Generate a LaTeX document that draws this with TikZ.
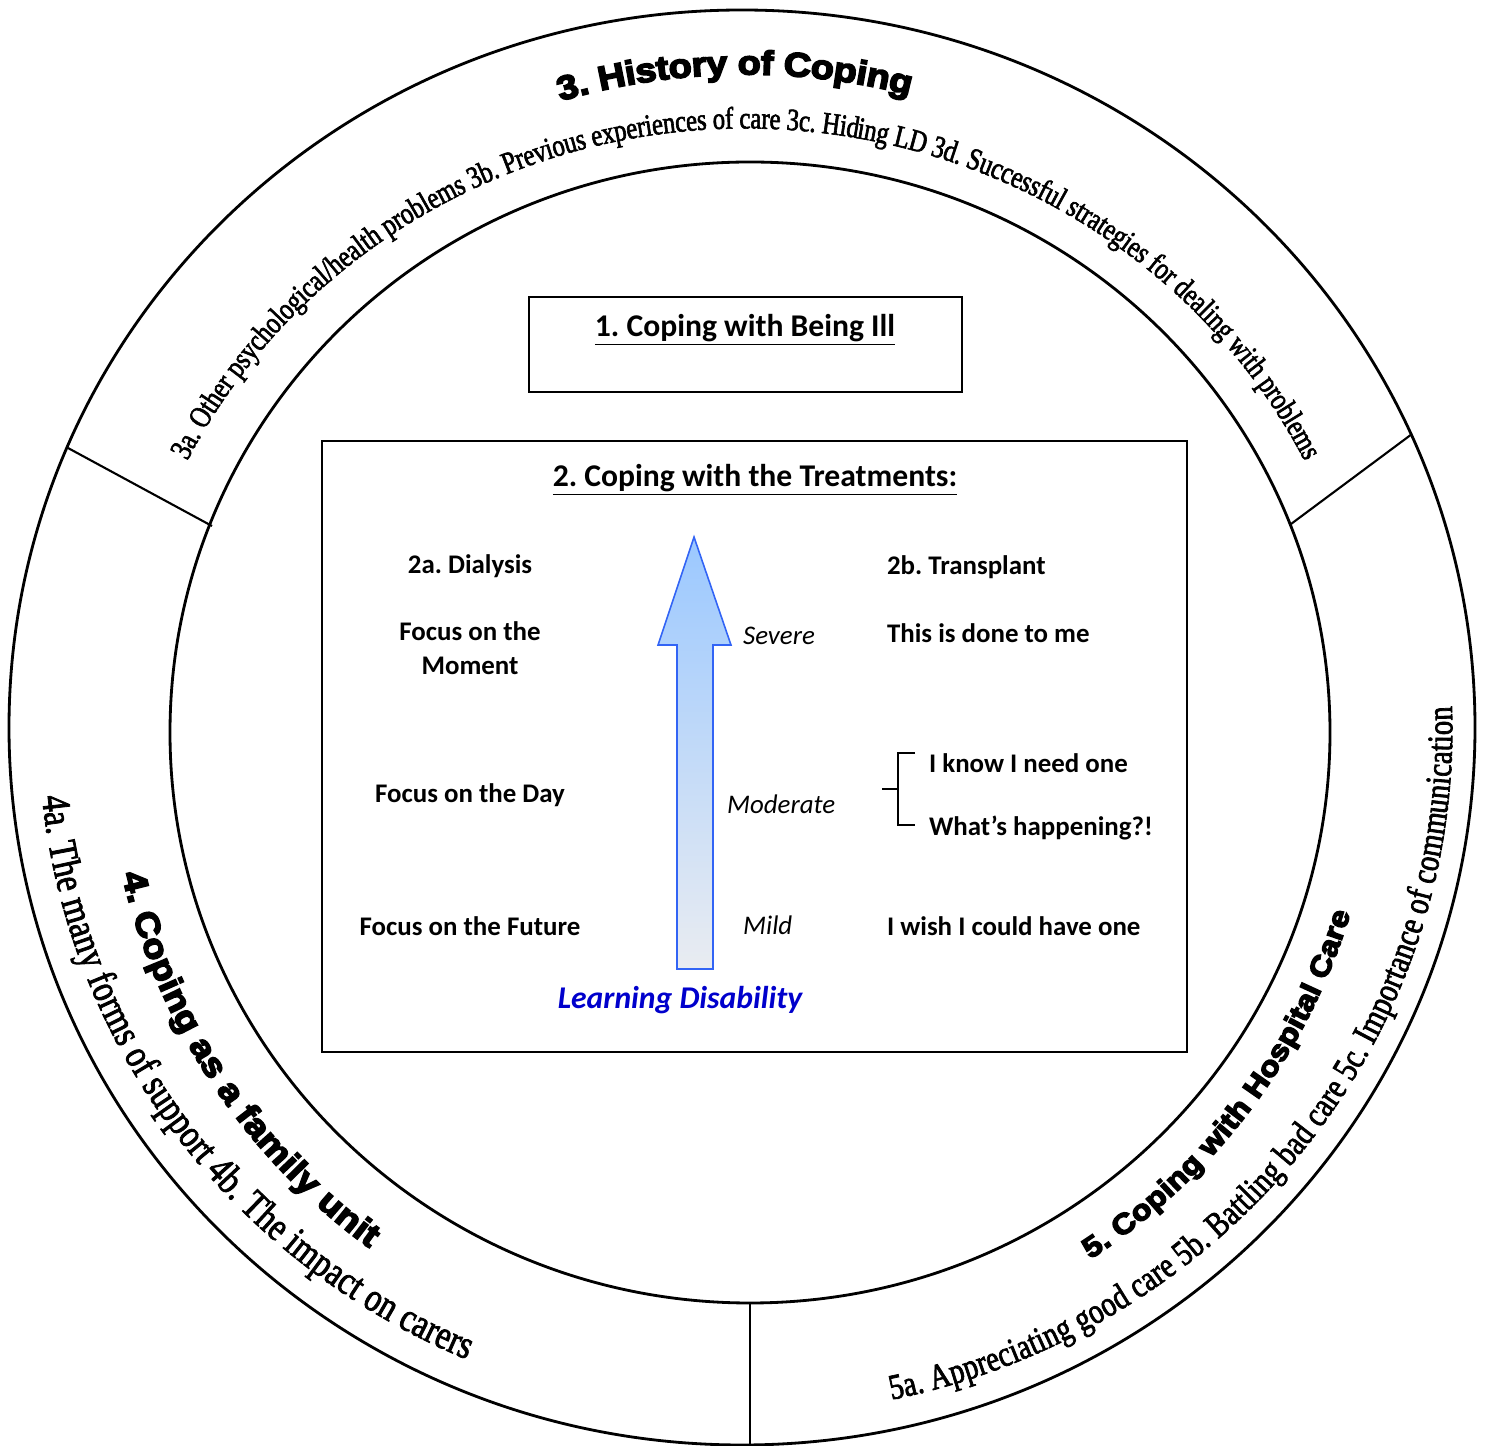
\documentclass[tikz,border=0pt]{standalone}
\usepackage{fontspec}
\setmainfont{Carlito}
\newfontfamily\ringhead[FakeStretch=1.12,BoldFeatures={FakeBold=5}]{Liberation Sans}
\newfontfamily\ringsub[FakeStretch=0.8,FakeBold=2]{Liberation Serif}
\usetikzlibrary{positioning,calc,decorations.text}
\frenchspacing

\begin{document}
\begin{tikzpicture}[x=0.2mm, y=0.2mm, every node/.style={align=center}]
    % colours
    \definecolor{arrowline}{RGB}{50,100,245}
    \definecolor{arrowtop}{RGB}{155,200,255}
    \definecolor{arrowbot}{RGB}{233,236,241}
    \definecolor{ldblue}{RGB}{0,0,204}

    % styles
    \tikzstyle{ring} = [line width=1.6pt]
    \tikzstyle{divider} = [line width=1.2pt]
    \tikzstyle{panel} = [rectangle, draw, line width=1.1pt, inner sep=0pt]
    \tikzstyle{title} = [font=\fontsize{18}{22}\selectfont\bfseries, inner sep=1pt]
    \tikzstyle{item} = [font=\fontsize{15.3}{19}\selectfont\bfseries, inner sep=1pt]
    \tikzstyle{level} = [font=\fontsize{15.3}{19}\selectfont\itshape, inner sep=1pt]

    \useasboundingbox (0,0) rectangle (1485,1446);

    % rings
    \coordinate (oc) at (742,718.5);
    \coordinate (ic) at (750,713.5);
    \coordinate (tc) at (746,716);
    \draw[ring] (oc) ellipse [x radius=733, y radius=717.5];
    \draw[ring] (ic) ellipse [x radius=580, y radius=570.5];

    % dividers between the ring parts
    \coordinate (d34o) at (68,998);
    \coordinate (d34i) at (212,920);
    \coordinate (d35o) at (1412,1012);
    \coordinate (d35i) at (1291,922);
    \coordinate (d45o) at (750,1);
    \coordinate (d45i) at (750,143);
    \draw[divider] (d34o) -- (d34i);
    \draw[divider] (d35o) -- (d35i);
    \draw[divider] (d45o) -- (d45i);

    % 1. Coping with Being Ill
    \node[panel, minimum width=86.6mm, minimum height=19mm] (ill) at (745.5,1101.5) {};
    \node[title] (illtitle) at (745,1116) {\underline{1. Coping with Being Ill}};

    % 2. Coping with the Treatments
    \node[panel, line width=0.9pt, minimum width=173mm, minimum height=122.2mm] (treat) at (754.5,699.5) {};
    \node[title] (treattitle) at (755,966) {\underline{2. Coping with the Treatments:}};

    % Learning disability arrow
    \shadedraw[top color=arrowtop, bottom color=arrowbot, draw=arrowline, line width=0.9pt]
        (677,477) -- (677,801) -- (658,801) -- (694,909) -- (731,801) -- (713,801) -- (713,477) -- cycle;
    \node[title, font=\fontsize{18}{22}\selectfont\bfseries\itshape, text=ldblue] (ld) at (680,446) {Learning Disability};
    \node[level, anchor=west] (severe) at (741,810) {Severe};
    \node[level, anchor=west] (moderate) at (725,642) {Moderate};
    \node[level, anchor=west] (mild) at (741,521) {Mild};

    % 2a. Dialysis
    \node[item] (dial) at (470,880) {2a. Dialysis};
    \node[item] (moment) at (470,798) {Focus on the\\Moment};
    \node[item] (day) at (470,651) {Focus on the Day};
    \node[item] (future) at (470,520) {Focus on the Future};

    % 2b. Transplant
    \node[item, anchor=west] (trans) at (885,879) {2b. Transplant};
    \node[item, anchor=west] (done) at (885,813) {This is done to me};
    \node[item, anchor=west] (know) at (927,683) {I know I need one};
    \node[item, anchor=west] (what) at (927,618) {What’s happening?!};
    \node[item, anchor=west] (wish) at (885,520) {I wish I could have one};
    \coordinate (brace) at (898,657);
    \draw[line width=0.8pt] ($(know.west)+(-12,10)$) -| (brace) |- ($(what.west)+(-12,3)$);
    \draw[line width=1.6pt] (brace) -- ++(-16,0);

    % 3. History of Coping
    \path[decorate, decoration={text along path, text align=center, raise=-6.5pt,
        text={|\ringhead\bfseries\fontsize{19.2}{22}\selectfont|3. History of Coping}}]
        ($(tc)+(131:667)$) arc[start angle=131, end angle=51, radius=667];
    \path[decorate, decoration={text along path, text align=center, raise=-6pt,
        text={|\ringsub\fontsize{17.6}{20}\selectfont|3a. Other psychological/health problems 3b. Previous experiences of care 3c. Hiding LD 3d. Successful strategies for dealing with problems}}]
        ($(tc)+(170:635 and 612)$) arc[start angle=170, end angle=10, x radius=635, y radius=612];

    % 4. Coping as a family unit
    \path[decorate, decoration={text along path, text align=center, raise=-6pt,
        text={|\ringhead\bfseries\fontsize{19}{22}\selectfont|4. Coping as a family unit}}]
        ($(tc)+(163.5:630)$) arc[start angle=163.5, end angle=263.5, radius=630];
    \path[decorate, decoration={text along path, text align=center, raise=-7.5pt,
        text={|\ringsub\fontsize{22.9}{26}\selectfont|4a. The many forms of support 4b. The impact on carers}}]
        ($(tc)+(155.7:694 and 672)$) arc[start angle=155.7, end angle=275.7, x radius=694, y radius=672];

    % 5. Coping with Hospital Care
    \path[decorate, decoration={text along path, text align=center, raise=-6pt,
        text={|\ringhead\bfseries\fontsize{16.3}{19}\selectfont|5. Coping with Hospital Care}}]
        ($(tc)+(273.1:621)$) arc[start angle=273.1, end angle=373.1, radius=621];
    \path[decorate, decoration={text along path, text align=center, raise=-7pt,
        text={|\ringsub\fontsize{20.4}{24}\selectfont|5a. Appreciating good care 5b. Battling bad care 5c. Importance of communication}}]
        ($(tc)+(262.25:694 and 672)$) arc[start angle=262.25, end angle=382.25, x radius=694, y radius=672];
\end{tikzpicture}
\end{document}
